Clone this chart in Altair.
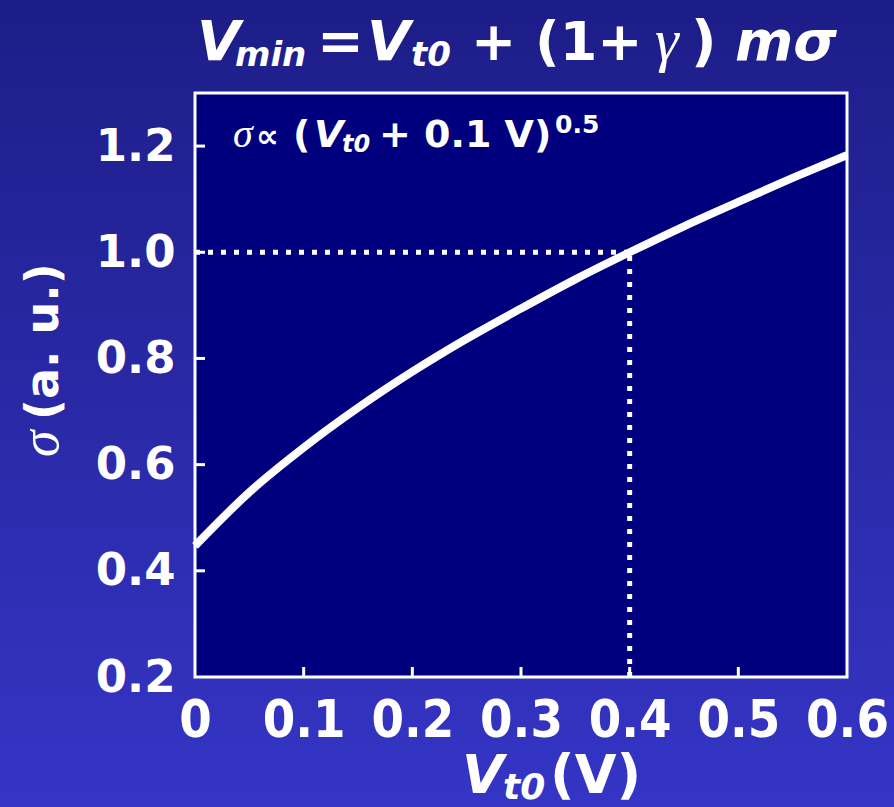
import altair as alt
import pandas as pd

# Threshold voltage (V) and normalised sigma
vt0 = [0.0, 0.05, 0.1, 0.15, 0.2, 0.25, 0.3, 0.35, 0.4, 0.45, 0.5, 0.55, 0.6]
sigma = [0.447, 0.548, 0.632, 0.707, 0.775, 0.837, 0.894, 0.949, 1.000,
         1.049, 1.095, 1.140, 1.183]

x_ticks = [0.0, 0.1, 0.2, 0.3, 0.4, 0.5, 0.6]
y_ticks = [0.2, 0.4, 0.6, 0.8, 1.0, 1.2]
x_inner_ticks = [0.1, 0.2, 0.3, 0.4, 0.5]
y_inner_ticks = [0.4, 0.6, 0.8, 1.0, 1.2]

# Operating point marked by the dotted guides
op_x = 0.4
op_y = 1.0

W, H = 652, 584
SANS = "DejaVu Sans"
SERIF = "Liberation Serif"

curve = pd.DataFrame({"vt0": vt0, "sigma": sigma})
one = pd.DataFrame({"k": [0]})

x_scale = alt.Scale(domain=[0, 0.6], nice=False, zero=False)
y_scale = alt.Scale(domain=[0.2, 1.3], nice=False, zero=False)

x_axis = alt.Axis(
    values=x_ticks,
    labelExpr="datum.value == 0 ? '0' : format(datum.value, '.1f')",
    labelFont="DejaVu Sans Condensed",
    labelFontSize=52,
    labelFontWeight="bold",
    labelColor="white",
    labelPadding=18,
    labelFlush=False,
    labelOverlap=False,
    ticks=False,
    domain=False,
    grid=False,
    title=None,
    zindex=1,
)
y_axis = alt.Axis(
    values=y_ticks,
    format=".1f",
    labelFont=SANS,
    labelFontSize=45,
    labelFontWeight="bold",
    labelColor="white",
    labelPadding=20,
    labelFlush=False,
    labelOverlap=False,
    ticks=False,
    domain=False,
    grid=False,
    title=None,
    zindex=1,
)


def X(field):
    return alt.X(f"{field}:Q", scale=x_scale, axis=x_axis)


def Y(field):
    return alt.Y(f"{field}:Q", scale=y_scale, axis=y_axis)


# Page background: vertical blue gradient over the whole canvas
background = alt.Chart(one).mark_rect(
    color=alt.LinearGradient(
        gradient="linear",
        stops=[
            alt.GradientStop(color="#1d1d88", offset=0),
            alt.GradientStop(color="#3535c6", offset=1),
        ],
        x1=0, x2=0, y1=0, y2=1,
    )
).encode(
    x=alt.value(-195), x2=alt.value(699), y=alt.value(-93), y2=alt.value(714)
)

plot_fill = alt.Chart(one).mark_rect(color="#00007f").encode(
    x=alt.value(0), x2=alt.value(W), y=alt.value(0), y2=alt.value(H)
)

frame = alt.Chart(one).mark_rect(
    fill="transparent", stroke="white", strokeWidth=3
).encode(x=alt.value(0), x2=alt.value(W), y=alt.value(0), y2=alt.value(H))

# Inward-pointing tick marks
xt = alt.Chart(pd.DataFrame({"t": x_inner_ticks})).mark_rule(
    color="white", strokeWidth=3
).encode(x=X("t"), y=alt.value(H), y2=alt.value(H - 10))

yt = alt.Chart(pd.DataFrame({"t": y_inner_ticks})).mark_rule(
    color="white", strokeWidth=3
).encode(y=Y("t"), x=alt.value(0), x2=alt.value(10))

guides = pd.DataFrame({"x0": [0.0, op_x], "x1": [op_x, op_x],
                       "y0": [op_y, 0.2], "y1": [op_y, op_y]})
dotted = alt.Chart(guides).mark_rule(
    color="white", strokeWidth=5, strokeDash=[5, 8]
).encode(x=X("x0"), x2="x1:Q", y=Y("y0"), y2="y1:Q")

line = alt.Chart(curve).mark_line(
    color="white", strokeWidth=8, interpolate="monotone", strokeCap="butt"
).encode(x=X("vt0"), y=Y("sigma"))


def txt(text, x, y, size, style="normal", weight="bold", font=SANS, angle=0):
    return alt.Chart(one).mark_text(
        text=text, fontSize=size, fontStyle=style, fontWeight=weight,
        font=font, align="left", baseline="alphabetic", color="white",
        angle=angle,
    ).encode(x=alt.value(x), y=alt.value(y))


# Title: V_min = V_t0 + (1+ γ) mσ
title = [
    txt("V", 2, -33, 56, "italic"),
    txt("min", 40, -27, 34, "italic"),
    txt("=", 122, -33, 56),
    txt("V", 172, -33, 56, "italic"),
    txt("t0", 216, -27, 34, "italic"),
    txt("+ (1+", 276, -33, 54),
    txt("γ", 460, -33, 60, "italic", "normal", SERIF),
    txt(")", 496, -33, 56),
    txt("mσ", 540, -33, 56, "italic"),
]

# In-plot note: σ ∝ (V_t0 + 0.1 V)^0.5
note = [
    txt("σ", 38, 54, 40, "italic", "normal", SERIF),
    txt("∝", 61, 54, 32),
    txt("(", 98, 54, 38),
    txt("V", 119, 54, 38, "italic"),
    txt("t0", 147, 59, 24, "italic"),
    txt("+ 0.1 V)", 184, 54, 38),
    txt("0.5", 360, 40, 25),
]

# Axis titles
x_title = [
    txt("V", 267, 700, 54, "italic"),
    txt("t0", 308, 706, 36, "italic"),
    txt("(V)", 355, 700, 54),
]
y_title = [
    txt("σ", -137, 364, 54, "italic", "normal", SERIF, angle=270),
    txt("(a. u.)", -137, 327, 46, angle=270),
]

chart = alt.layer(
    background, plot_fill, frame, xt, yt, dotted, line,
    *title, *note, *x_title, *y_title,
).properties(
    width=W, height=H,
    autosize=alt.AutoSizeParams(type="none"),
    padding={"left": 195, "top": 93, "right": 47, "bottom": 130},
).configure_view(stroke=None)

chart.save("out.html", embed_options={"renderer": "svg", "actions": False})
